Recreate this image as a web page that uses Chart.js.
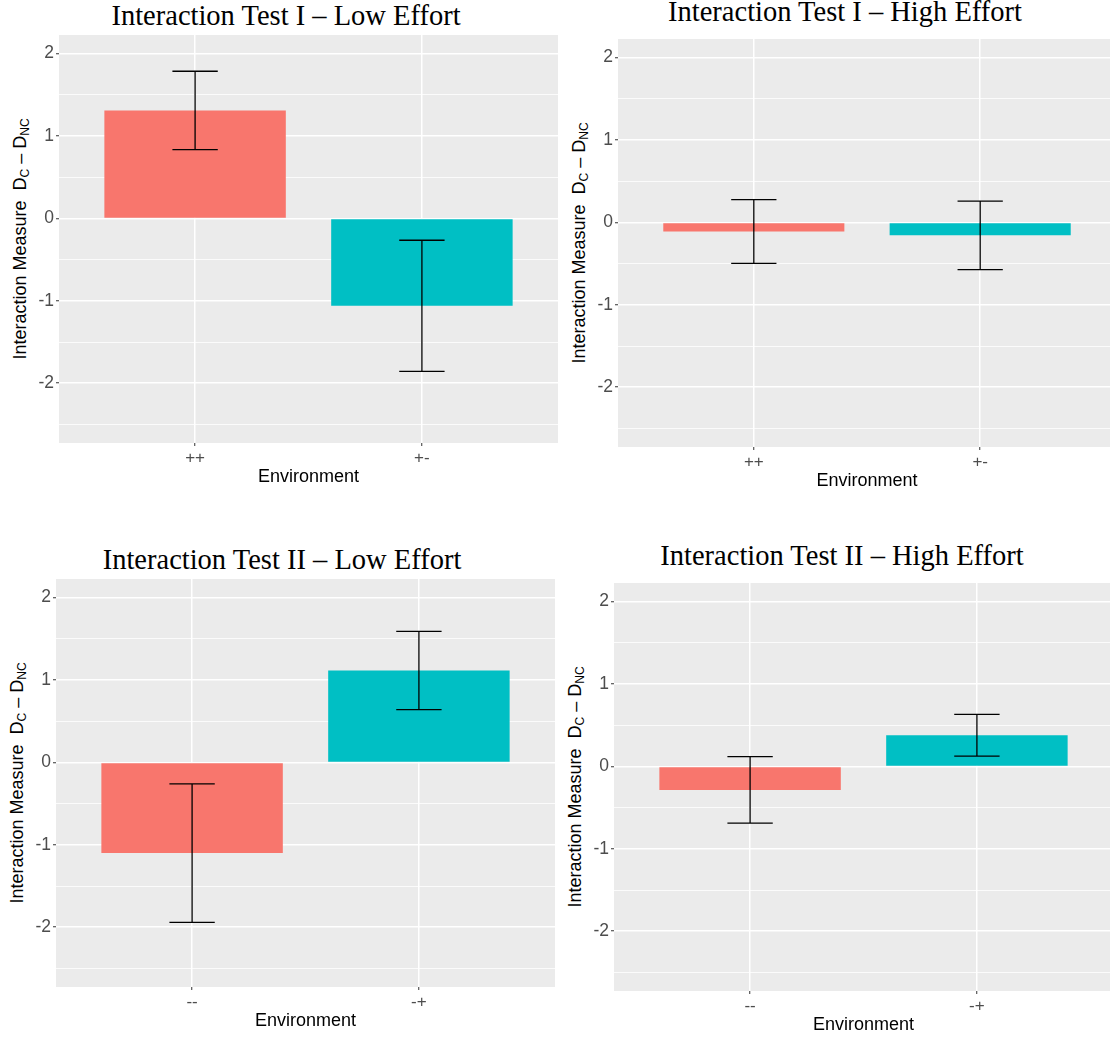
<!DOCTYPE html>
<html>
<head>
<meta charset="utf-8">
<script src="https://cdn.jsdelivr.net/npm/chart.js@4.4.1/dist/chart.umd.min.js"></script>
<style>
  html, body { margin: 0; padding: 0; background: #fff; overflow: hidden; }
  body { width: 1110px; height: 1039px; position: relative; }
  canvas { position: absolute; }
  .panel-title {
    position: absolute; font-family: "Liberation Serif", serif; font-size: 28.5px;
    line-height: 28.5px; white-space: nowrap; color: #000; transform: translateX(-50%);
  }
  .y-title {
    position: absolute; font-family: "Liberation Sans", Arial, sans-serif; font-size: 18px;
    line-height: 18px; white-space: pre; color: #000;
    transform: translate(-50%, -50%) rotate(-90deg);
  }
  .y-title sub { font-size: 12px; line-height: 0; vertical-align: -3px; }
</style>
</head>
<body>
<script>
// Categories (environments) for each test
const catsTest1 = ['++', '+-'];
const catsTest2 = ['--', '-+'];

// Interaction measure (bar height) and error bar half-width
const test1LowMeans = [1.31, -1.06];
const test1LowErr = [0.475, 0.795];
const test1HighMeans = [-0.11, -0.157];
const test1HighErr = [0.386, 0.416];
const test2LowMeans = [-1.10, 1.115];
const test2LowErr = [0.84, 0.475];
const test2HighMeans = [-0.285, 0.378];
const test2HighErr = [0.403, 0.253];

// y grid: labelled at integers, minor lines at the halves
const yTickValues = [-2.5, -2, -1.5, -1, -0.5, 0, 0.5, 1, 1.5, 2];
const yMin = -2.725;
const yMax = 2.225;

const barColors = ['#F8766D', '#00BFC4'];

// Space reserved around each plot area
const Y_W = 45;
const X_H = 45;
const TOP_PAD = 20;

Chart.defaults.font.family = '"Liberation Sans", Arial, sans-serif';

// Layout of the four panels (plot area box, title position)
const panels = [
  { title: 'Interaction Test I – Low Effort', cats: catsTest1, means: test1LowMeans, errs: test1LowErr,
    plot: { l: 59, t: 35, r: 558, b: 443 }, titleX: 286, titleBase: 26 },
  { title: 'Interaction Test I – High Effort', cats: catsTest1, means: test1HighMeans, errs: test1HighErr,
    plot: { l: 618, t: 39, r: 1116, b: 447 }, titleX: 845, titleBase: 22 },
  { title: 'Interaction Test II – Low Effort', cats: catsTest2, means: test2LowMeans, errs: test2LowErr,
    plot: { l: 56, t: 579, r: 555, b: 987 }, titleX: 282, titleBase: 570 },
  { title: 'Interaction Test II – High Effort', cats: catsTest2, means: test2HighMeans, errs: test2HighErr,
    plot: { l: 614, t: 583, r: 1113, b: 991 }, titleX: 842, titleBase: 566 }
];

// Grey panel background like ggplot
const panelBg = {
  id: 'panelBg',
  beforeDraw(chart) {
    const { ctx, chartArea: a } = chart;
    ctx.save();
    ctx.fillStyle = '#EBEBEB';
    ctx.fillRect(a.left, a.top, a.right - a.left, a.bottom - a.top);
    ctx.restore();
  }
};

function errorBarPlugin(means, errs) {
  return {
    id: 'errorBars',
    afterDatasetsDraw(chart) {
      const { ctx, scales: { x, y } } = chart;
      ctx.save();
      ctx.strokeStyle = '#000';
      ctx.lineWidth = 1.3;
      means.forEach((m, i) => {
        const px = x.getPixelForValue(i + 1);
        const half = x.getPixelForValue(i + 1.1) - px;
        const top = y.getPixelForValue(m + errs[i]);
        const bot = y.getPixelForValue(m - errs[i]);
        ctx.beginPath();
        ctx.moveTo(px, top); ctx.lineTo(px, bot);
        ctx.moveTo(px - half, top); ctx.lineTo(px + half, top);
        ctx.moveTo(px - half, bot); ctx.lineTo(px + half, bot);
        ctx.stroke();
      });
      ctx.restore();
    }
  };
}

function drawPanel(p) {
  // title
  const t = document.createElement('div');
  t.className = 'panel-title';
  t.textContent = p.title;
  t.style.left = p.titleX + 'px';
  t.style.top = (p.titleBase - 23.9) + 'px';
  document.body.appendChild(t);

  // y axis title with subscripts
  const yt = document.createElement('div');
  yt.className = 'y-title';
  yt.innerHTML = 'Interaction Measure  D<sub>C</sub> \u2013 D<sub>NC</sub>';
  yt.style.left = (p.plot.l - 39) + 'px';
  yt.style.top = ((p.plot.t + p.plot.b) / 2) + 'px';
  document.body.appendChild(yt);

  const canvas = document.createElement('canvas');
  const left = p.plot.l - Y_W;
  const top = p.plot.t - TOP_PAD;
  const w = p.plot.r - left;
  const h = p.plot.b + X_H - top;
  canvas.width = w;
  canvas.height = h;
  canvas.style.left = left + 'px';
  canvas.style.top = top + 'px';
  canvas.style.width = w + 'px';
  canvas.style.height = h + 'px';
  document.body.appendChild(canvas);

  new Chart(canvas, {
    type: 'bar',
    data: {
      datasets: [{
        data: p.means.map((m, i) => ({ x: i + 1, y: m })),
        backgroundColor: barColors,
        borderWidth: 0,
        barPercentage: 0.8,
        categoryPercentage: 1
      }]
    },
    options: {
      responsive: false,
      animation: false,
      devicePixelRatio: 1,
      layout: { padding: { top: TOP_PAD, left: 0, right: 0, bottom: 0 } },
      plugins: { legend: { display: false }, tooltip: { enabled: false } },
      scales: {
        x: {
          type: 'linear',
          min: 0.4,
          max: 2.6,
          offset: false,
          afterBuildTicks: s => { s.ticks = p.cats.map((c, i) => ({ value: i + 1 })); },
          afterFit: s => { s.height = X_H; },
          ticks: {
            callback: v => p.cats[v - 1],
            color: '#4D4D4D',
            font: { size: 17 },
            padding: 2,
            autoSkip: false,
            maxRotation: 0
          },
          grid: { offset: false, color: '#FFFFFF', lineWidth: 1.5, tickLength: 3, tickColor: '#333333', tickWidth: 1 },
          border: { display: false },
          title: { display: true, text: 'Environment', color: '#000', font: { size: 18 }, padding: 0 }
        },
        y: {
          min: yMin,
          max: yMax,
          afterBuildTicks: s => { s.ticks = yTickValues.map(v => ({ value: v })); },
          afterFit: s => { s.width = Y_W; },
          ticks: {
            callback: v => Number.isInteger(v) ? String(v) : '',
            color: '#4D4D4D',
            font: { size: 17.5 },
            padding: 2,
            autoSkip: false
          },
          grid: {
            color: '#FFFFFF',
            lineWidth: c => Number.isInteger(c.tick.value) ? 1.5 : 0.8,
            tickLength: 3,
            tickColor: c => Number.isInteger(c.tick.value) ? '#333333' : 'rgba(0,0,0,0)',
            tickWidth: 1
          },
          border: { display: false }
        }
      }
    },
    plugins: [panelBg, errorBarPlugin(p.means, p.errs)]
  });
}

panels.forEach(drawPanel);
</script>
</body>
</html>
